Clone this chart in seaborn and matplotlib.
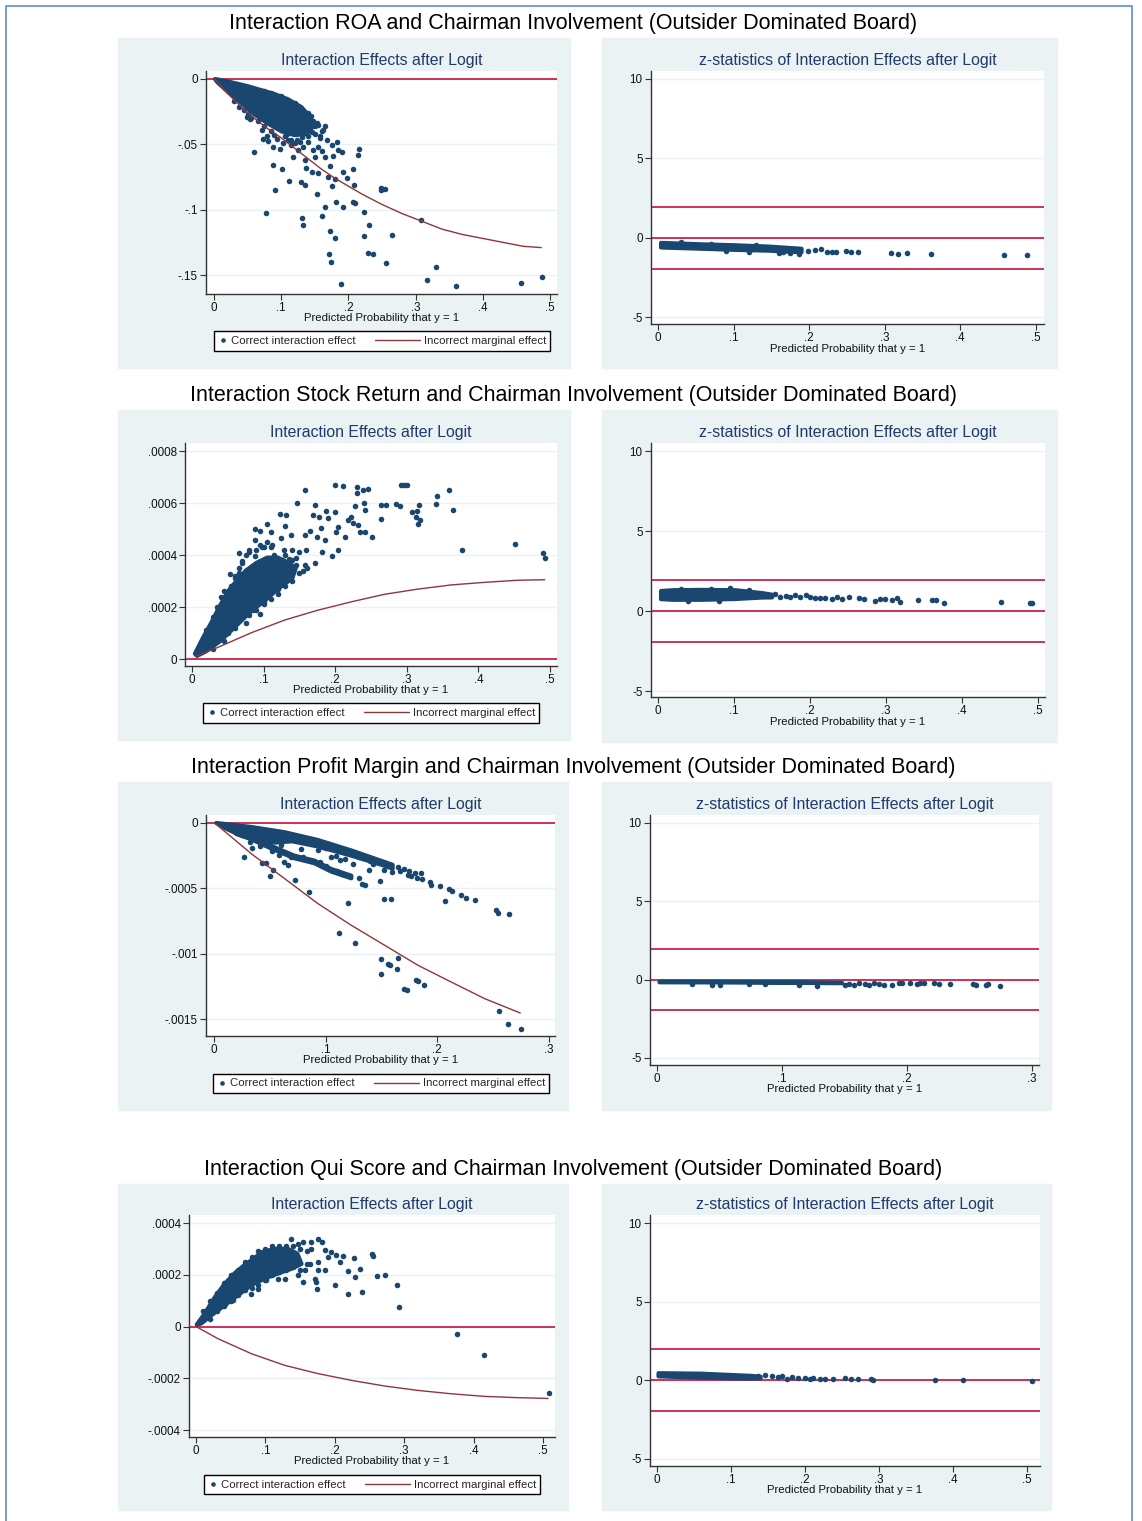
import seaborn as sns
import matplotlib.pyplot as plt
from matplotlib.lines import Line2D
from matplotlib.patches import Rectangle
from matplotlib.legend_handler import HandlerLine2D

W, H = 1142, 1521
NAVY = '#1A476F'
MAROON = '#90353B'
RED = '#C8103A'
PANEL = '#EAF2F3'
SUBTITLE = '#1F3B6B'

# ---------------- DATA ----------------
row_titles = [
    'Interaction ROA and Chairman Involvement (Outsider Dominated Board)',
    'Interaction Stock Return and Chairman Involvement (Outsider Dominated Board)',
    'Interaction Profit Margin and Chairman Involvement (Outsider Dominated Board)',
    'Interaction Qui Score and Chairman Involvement (Outsider Dominated Board)',
]
legend_labels = ['Correct interaction effect', 'Incorrect marginal effect']

x_ticks_5 = [0, .1, .2, .3, .4, .5]
x_labels_5 = ['0', '.1', '.2', '.3', '.4', '.5']
x_ticks_3 = [0, .1, .2, .3]
x_labels_3 = ['0', '.1', '.2', '.3']
z_ticks = [-5, 0, 5, 10]
z_labels = ['-5', '0', '5', '10']
z_bounds = [-1.96, 0, 1.96]

# ROA
roa_yticks = [0, -.05, -.1, -.15]
roa_ylabels = ['0', '-.05', '-.1', '-.15']
roa_line_x = [0.001, 0.02, 0.04, 0.06, 0.08, 0.10, 0.12, 0.14, 0.16, 0.18, 0.20, 0.22, 0.25,
              0.28, 0.31, 0.34, 0.37, 0.40, 0.43, 0.46, 0.487]
roa_line_y = [0, -0.011, -0.021, -0.030, -0.038, -0.045, -0.053, -0.061, -0.069, -0.076, -0.082,
              -0.088, -0.096, -0.103, -0.109, -0.115, -0.119, -0.122, -0.125, -0.128, -0.129]
roa_cloud = [(0.0015, 0.0), (0.02, -0.0018), (0.05, -0.0055), (0.07, -0.0085), (0.09, -0.0115),
             (0.11, -0.0155), (0.13, -0.0215), (0.143, -0.029), (0.148, -0.036), (0.138, -0.042),
             (0.12, -0.043), (0.10, -0.040), (0.08, -0.034), (0.06, -0.027), (0.04, -0.018),
             (0.02, -0.0095), (0.005, -0.0025)]
roa_points = [
    (0.0595, -0.0561), (0.0774, -0.1028), (0.0908, -0.0852), (0.0883, -0.0661), (0.1007, -0.0689),
    (0.1116, -0.0783), (0.129, -0.0788), (0.1354, -0.0811), (0.1305, -0.1061), (0.133, -0.112),
    (0.1463, -0.0712), (0.1543, -0.0722), (0.1528, -0.088), (0.1602, -0.1051), (0.1657, -0.0977),
    (0.1696, -0.0747), (0.1761, -0.0816), (0.1806, -0.0763), (0.181, -0.0944), (0.172, -0.1161),
    (0.1796, -0.1214), (0.1716, -0.1339), (0.1736, -0.140), (0.1895, -0.1569), (0.1915, -0.0714),
    (0.1974, -0.0759), (0.192, -0.0982), (0.2073, -0.0689), (0.2078, -0.0814), (0.2073, -0.0939),
    (0.2093, -0.0952), (0.2148, -0.0584), (0.2163, -0.0536), (0.2227, -0.102), (0.2232, -0.1204),
    (0.2307, -0.1117), (0.2292, -0.1334), (0.2361, -0.1336), (0.248, -0.0832), (0.249, -0.0847),
    (0.2545, -0.0842), (0.256, -0.141), (0.2649, -0.1191), (0.308, -0.1081), (0.317, -0.1541),
    (0.330, -0.1441), (0.3606, -0.1587), (0.4573, -0.1561), (0.488, -0.1515),
    (0.0377, -0.0214), (0.0486, -0.0288), (0.0536, -0.031), (0.071, -0.039), (0.0734, -0.0459),
    (0.0794, -0.0434), (0.0809, -0.0472), (0.0883, -0.0518), (0.0933, -0.0459), (0.0983, -0.0538),
    (0.1032, -0.0487), (0.1081, -0.0423), (0.1106, -0.0181), (0.1146, -0.0502), (0.1181, -0.0594),
    (0.123, -0.0467), (0.1255, -0.0546), (0.1205, -0.0237), (0.1305, -0.0268), (0.1305, -0.0441),
    (0.133, -0.0523), (0.1354, -0.062), (0.1369, -0.0684), (0.1403, -0.048), (0.1453, -0.0403),
    (0.1468, -0.0546), (0.1503, -0.0597), (0.1528, -0.0339), (0.1553, -0.0518), (0.1577, -0.0454),
    (0.1602, -0.0549), (0.1627, -0.0391), (0.1652, -0.06), (0.1676, -0.0467), (0.1726, -0.0666),
    (0.1751, -0.0505), (0.1776, -0.0589), (0.1825, -0.0485), (0.185, -0.0544), (0.19, -0.0556),
    (0.0983, -0.0385), (0.145, -0.028), (0.15, -0.036), (0.125, -0.036), (0.115, -0.047),
    (0.075, -0.009), (0.085, -0.011), (0.10, -0.013), (0.105, -0.016), (0.12, -0.018), (0.13, -0.022),
    (0.14, -0.026), (0.148, -0.032), (0.155, -0.035), (0.16, -0.040), (0.158, -0.044),
    (0.03, -0.017), (0.045, -0.024), (0.05, -0.027), (0.055, -0.030), (0.065, -0.032), (0.075, -0.036),
    (0.085, -0.040), (0.09, -0.043), (0.105, -0.044), (0.11, -0.047), (0.12, -0.049), (0.128, -0.048),
    (0.14, -0.044), (0.135, -0.038), (0.15, -0.042), (0.165, -0.036),
]
roa_z_band = [(0.004, -0.33), (0.058, -0.42), (0.102, -0.48), (0.146, -0.56), (0.19, -0.70),
              (0.19, -0.92), (0.146, -0.82), (0.102, -0.77), (0.058, -0.70), (0.004, -0.62)]
roa_z_points = [(0.198, -0.86), (0.208, -0.78), (0.216, -0.74), (0.224, -0.88), (0.230, -0.92),
                (0.236, -0.90), (0.249, -0.86), (0.256, -0.88), (0.265, -0.92), (0.309, -0.94),
                (0.318, -1.02), (0.330, -0.98), (0.361, -1.02), (0.458, -1.11), (0.488, -1.11),
                (0.186, -1.03), (0.175, -0.95), (0.165, -0.88), (0.182, -0.80), (0.16, -0.95),
                (0.12, -0.88), (0.09, -0.85), (0.03, -0.30), (0.07, -0.38), (0.13, -0.47)]

# Stock return
stock_yticks = [0, .0002, .0004, .0006, .0008]
stock_ylabels = ['0', '.0002', '.0004', '.0006', '.0008']
stock_line_x = [0.006, 0.0363, 0.0828, 0.1295, 0.176, 0.2225, 0.269, 0.3156, 0.362, 0.409, 0.455, 0.4926]
stock_line_y = [0.0000115, 0.000045, 0.000101, 0.00015, 0.000188, 0.00022, 0.000249, 0.000269,
                0.000285, 0.000295, 0.000303, 0.000305]
stock_cloud = [(0.004, 0.00002), (0.015, 0.00008), (0.027, 0.00014), (0.038, 0.0002), (0.05, 0.00026),
               (0.062, 0.0003), (0.075, 0.00034), (0.09, 0.00037), (0.105, 0.00039), (0.12, 0.00039),
               (0.135, 0.00037), (0.145, 0.00035), (0.14, 0.00031), (0.12, 0.00027), (0.10, 0.00022),
               (0.085, 0.00019), (0.07, 0.00015), (0.055, 0.00011), (0.04, 0.00007), (0.02, 0.00003),
               (0.007, 0.000012)]
stock_points = [
    (0.0526, 0.000326), (0.0656, 0.000409), (0.0698, 0.000378), (0.0791, 0.000418), (0.0875, 0.000397),
    (0.088, 0.000459), (0.088, 0.000499), (0.0945, 0.000494), (0.0982, 0.000432), (0.0945, 0.000172),
    (0.0857, 0.000188), (0.1047, 0.000518), (0.1108, 0.000488), (0.1117, 0.000437), (0.1234, 0.000559),
    (0.1308, 0.000555), (0.1294, 0.000512), (0.1246, 0.000464), (0.1387, 0.000478), (0.1285, 0.000419),
    (0.135, 0.000384), (0.1466, 0.0006), (0.1583, 0.000649), (0.1574, 0.000478), (0.1598, 0.000418),
    (0.1574, 0.000361), (0.1644, 0.000494), (0.169, 0.000555), (0.1714, 0.000593), (0.1723, 0.000371),
    (0.177, 0.000545), (0.1807, 0.000503), (0.1751, 0.000471), (0.1877, 0.000571), (0.19, 0.000544),
    (0.1854, 0.000458), (0.1817, 0.000413), (0.1961, 0.000397), (0.1993, 0.000565), (0.2002, 0.000669),
    (0.2039, 0.000509), (0.2039, 0.000419), (0.2016, 0.000488), (0.2114, 0.000666), (0.2132, 0.000471),
    (0.2179, 0.000535), (0.2225, 0.000548), (0.2249, 0.000522), (0.2281, 0.00059), (0.23, 0.000662),
    (0.23, 0.000639), (0.2318, 0.000516), (0.2346, 0.000488), (0.2393, 0.000649), (0.2402, 0.000599),
    (0.2421, 0.000573), (0.2458, 0.000654), (0.2411, 0.000487), (0.252, 0.000468), (0.2644, 0.000539),
    (0.2644, 0.000593), (0.2704, 0.000593), (0.2855, 0.000596), (0.2906, 0.000587), (0.2915, 0.000669),
    (0.2962, 0.000669), (0.3, 0.000669), (0.3077, 0.000565), (0.3124, 0.000545), (0.3147, 0.00057),
    (0.3156, 0.000518), (0.3184, 0.000535), (0.317, 0.000593), (0.3412, 0.000598), (0.3426, 0.000629),
    (0.3594, 0.000651), (0.365, 0.000575), (0.3765, 0.00042), (0.4515, 0.000443), (0.4902, 0.000407),
    (0.4926, 0.000389),
    (0.08, 0.00032), (0.09, 0.00035), (0.1, 0.00036), (0.11, 0.00034), (0.12, 0.00037), (0.13, 0.0004),
    (0.14, 0.00042), (0.145, 0.00039), (0.15, 0.00041), (0.115, 0.00029), (0.105, 0.00026),
    (0.095, 0.00028), (0.125, 0.00031), (0.135, 0.00036), (0.14, 0.00035), (0.1, 0.00022),
    (0.12, 0.00027), (0.07, 0.00028), (0.065, 0.00033), (0.06, 0.00031),
    (0.02, 0.00011), (0.03, 0.00016), (0.035, 0.0002), (0.04, 0.00024), (0.045, 0.00026),
    (0.055, 0.00028), (0.06, 0.00032), (0.065, 0.00035), (0.07, 0.00037), (0.075, 0.0004),
    (0.08, 0.00041), (0.09, 0.00042), (0.095, 0.00044), (0.1, 0.00043), (0.105, 0.00045),
    (0.11, 0.00043), (0.115, 0.0004), (0.125, 0.00038), (0.13, 0.00037), (0.14, 0.00038),
    (0.145, 0.00036), (0.03, 0.00004), (0.045, 0.00007), (0.05, 0.0001), (0.06, 0.00012),
    (0.075, 0.00014), (0.08, 0.00017), (0.09, 0.00019), (0.1, 0.00021), (0.11, 0.00023),
    (0.12, 0.00025), (0.13, 0.00028), (0.14, 0.0003), (0.15, 0.00033), (0.155, 0.00034),
    (0.16, 0.00035),
]
stock_z_band = [(0.004, 1.25), (0.02, 1.30), (0.058, 1.32), (0.102, 1.30), (0.137, 1.12), (0.15, 1.02),
                (0.15, 0.85), (0.137, 0.84), (0.102, 0.75), (0.058, 0.70), (0.02, 0.70), (0.004, 0.74)]
stock_z_points = [(0.1544, 1.06), (0.161, 0.90), (0.168, 0.94), (0.174, 0.85), (0.1807, 1.0),
                  (0.1873, 0.85), (0.1947, 1.0), (0.2004, 0.90), (0.207, 0.79), (0.2136, 0.79),
                  (0.2202, 0.79), (0.229, 0.73), (0.2355, 0.85), (0.2421, 0.73), (0.2509, 0.85),
                  (0.264, 0.79), (0.2706, 0.75), (0.2851, 0.63), (0.2917, 0.73), (0.2982, 0.73),
                  (0.3079, 0.69), (0.3145, 0.79), (0.3189, 0.58), (0.3421, 0.69), (0.3605, 0.67),
                  (0.365, 0.69), (0.3763, 0.52), (0.4513, 0.58), (0.4899, 0.52), (0.4921, 0.52),
                  (0.03, 1.40), (0.07, 1.38), (0.095, 1.42), (0.12, 1.30), (0.04, 0.62), (0.08, 0.64)]

# Profit margin
profit_yticks = [0, -.0005, -.001, -.0015]
profit_ylabels = ['0', '-.0005', '-.001', '-.0015']
profit_line_x = [0.0006, 0.0334, 0.0633, 0.0931, 0.123, 0.1529, 0.1827, 0.2125, 0.2424, 0.2743]
profit_line_y = [0, -0.000235, -0.000426, -0.000617, -0.000783, -0.000936, -0.001089, -0.001217,
                 -0.001344, -0.001454]
profit_cloud = [(0.002, 0.0), (0.033, -0.00003), (0.063, -0.00007), (0.093, -0.00013), (0.123, -0.00021),
                (0.15, -0.00029), (0.16, -0.00032), (0.16, -0.00035), (0.15, -0.00032), (0.123, -0.00025),
                (0.093, -0.00018), (0.07, -0.00014), (0.055, -0.00015), (0.04, -0.00014), (0.025, -0.0001),
                (0.01, -0.00004)]
profit_branch = [(0.02, -0.000065), (0.028, -0.000084), (0.051, -0.000174), (0.072, -0.00025),
                 (0.09, -0.000288), (0.105, -0.000352), (0.123, -0.000403), (0.123, -0.000423),
                 (0.105, -0.000372), (0.09, -0.000308), (0.072, -0.00027), (0.051, -0.000194),
                 (0.028, -0.000104), (0.02, -0.000085)]
profit_points = [
    (0.0269, -0.00026), (0.032, -0.000145), (0.034, -0.000189), (0.0409, -0.000179), (0.043, -0.000306),
    (0.0469, -0.000306), (0.0505, -0.000403), (0.0519, -0.000214), (0.0531, -0.00036), (0.0579, -0.000242),
    (0.0624, -0.000301), (0.0663, -0.000319), (0.0722, -0.000439), (0.0851, -0.000528), (0.0693, -0.00026),
    (0.0782, -0.000196), (0.0931, -0.000209), (0.0976, -0.000184), (0.1051, -0.00026), (0.1096, -0.000253),
    (0.1125, -0.000286), (0.117, -0.000273), (0.12, -0.00061), (0.1116, -0.00084), (0.1248, -0.000314),
    (0.1266, -0.000916), (0.1295, -0.000418), (0.1325, -0.000464), (0.1349, -0.000472), (0.1385, -0.000362),
    (0.1424, -0.000311), (0.1487, -0.000444), (0.1498, -0.001043), (0.1498, -0.001153), (0.152, -0.000584),
    (0.1522, -0.000362), (0.1558, -0.001077), (0.1573, -0.001084), (0.1582, -0.000584), (0.1594, -0.000375),
    (0.1636, -0.001117), (0.1648, -0.001031), (0.1663, -0.00037), (0.1699, -0.001268), (0.1726, -0.001276),
    (0.1737, -0.0004), (0.1767, -0.000406), (0.1812, -0.001199), (0.1827, -0.001207), (0.1821, -0.000418),
    (0.1863, -0.000431), (0.1881, -0.00124), (0.1931, -0.000452), (0.194, -0.000472), (0.2021, -0.000485),
    (0.2072, -0.000595), (0.2104, -0.000508), (0.2134, -0.00052), (0.2215, -0.000548), (0.226, -0.000571),
    (0.234, -0.000592), (0.2522, -0.000668), (0.2543, -0.000686), (0.2639, -0.000694), (0.2552, -0.001441),
    (0.2633, -0.001541), (0.2746, -0.001577),
    (0.165, -0.00034), (0.17, -0.000355), (0.175, -0.00037), (0.18, -0.00038), (0.185, -0.000385),
    (0.08, -0.00026), (0.085, -0.00028), (0.095, -0.0003), (0.1, -0.00033), (0.11, -0.00037),
    (0.115, -0.00039), (0.06, -0.00017), (0.045, -0.00016), (0.1, -0.00019), (0.13, -0.00026),
    (0.14, -0.00029),
]
profit_z_band = [(0.002, -0.13), (0.05, -0.14), (0.10, -0.16), (0.148, -0.20),
                 (0.148, -0.23), (0.10, -0.20), (0.05, -0.18), (0.002, -0.17)]
profit_z_points = [(0.1501, -0.32), (0.1533, -0.26), (0.1573, -0.32), (0.1613, -0.21), (0.1667, -0.26),
                   (0.1693, -0.32), (0.1733, -0.21), (0.1773, -0.26), (0.1813, -0.32), (0.188, -0.32),
                   (0.1933, -0.21), (0.196, -0.21), (0.2027, -0.23), (0.208, -0.26), (0.2107, -0.23),
                   (0.2133, -0.23), (0.2213, -0.23), (0.2259, -0.26), (0.2347, -0.26), (0.2525, -0.26),
                   (0.2552, -0.36), (0.2632, -0.36), (0.2648, -0.28), (0.2747, -0.40),
                   (0.028, -0.30), (0.044, -0.32), (0.0507, -0.32), (0.0733, -0.30), (0.0867, -0.30),
                   (0.1133, -0.32), (0.128, -0.40)]

# Qui score
qui_yticks = [-.0004, -.0002, 0, .0002, .0004]
qui_ylabels = ['-.0004', '-.0002', '0', '.0002', '.0004']
qui_line_x = [0.0, 0.0317, 0.0797, 0.1278, 0.1758, 0.2238, 0.2719, 0.3199, 0.3679, 0.416, 0.464, 0.5072]
qui_line_y = [0, -0.000047, -0.000105, -0.00015, -0.000182, -0.000208, -0.00023, -0.000247, -0.00026,
              -0.00027, -0.000275, -0.000278]
qui_cloud = [(0.001, 0.000007), (0.0125, 0.00005), (0.027, 0.000113), (0.0413, 0.000165),
             (0.0557, 0.000206), (0.0701, 0.000238), (0.0845, 0.000265), (0.0941, 0.000287),
             (0.1134, 0.0003), (0.1326, 0.0003), (0.146, 0.000282), (0.152, 0.000242),
             (0.1374, 0.000223), (0.1182, 0.000205), (0.099, 0.000185), (0.0797, 0.00016),
             (0.0605, 0.000121), (0.0413, 0.000082), (0.0221, 0.000043), (0.0077, 0.000012)]
qui_points = [
    (0.1374, 0.000337), (0.147, 0.00032), (0.1542, 0.000327), (0.1662, 0.000327), (0.1758, 0.000337),
    (0.1816, 0.000327), (0.1854, 0.000294), (0.1902, 0.000269), (0.195, 0.000288), (0.2022, 0.000275),
    (0.207, 0.000249), (0.2118, 0.000272), (0.219, 0.000213), (0.2286, 0.000191), (0.2272, 0.000266),
    (0.2358, 0.000221), (0.2392, 0.000133), (0.2536, 0.000281), (0.2546, 0.000274), (0.2613, 0.000196),
    (0.2719, 0.0002), (0.2892, 0.000159), (0.2925, 0.000074), (0.3761, -0.00003), (0.415, -0.00011),
    (0.5082, -0.000257), (0.219, 0.000127), (0.2008, 0.000159), (0.1734, 0.000172), (0.171, 0.000185),
    (0.1739, 0.000146), (0.1542, 0.000172), (0.147, 0.000198), (0.1278, 0.000185), (0.1182, 0.000182),
    (0.1013, 0.000178), (0.0893, 0.000146), (0.0797, 0.000127), (0.0701, 0.000153), (0.0423, 0.000088),
    (0.0533, 0.000101), (0.1566, 0.000217), (0.1638, 0.000243), (0.1758, 0.000217), (0.1854, 0.00022),
    (0.1758, 0.000249), (0.1662, 0.0003), (0.1278, 0.000292),
    (0.01, 0.00006), (0.02, 0.0001), (0.03, 0.00013), (0.04, 0.00017), (0.05, 0.0002), (0.06, 0.00022),
    (0.07, 0.00025), (0.08, 0.00027), (0.09, 0.00029), (0.1, 0.0003), (0.11, 0.00031), (0.12, 0.00031),
    (0.13, 0.00031), (0.14, 0.00031), (0.15, 0.0003), (0.16, 0.00029), (0.02, 0.00003), (0.03, 0.00006),
    (0.04, 0.00008), (0.05, 0.0001), (0.06, 0.00012), (0.07, 0.00014), (0.08, 0.00015), (0.09, 0.00016),
    (0.1, 0.00018), (0.11, 0.0002), (0.12, 0.00021), (0.13, 0.00022), (0.14, 0.00023), (0.15, 0.00022),
    (0.16, 0.00024),
]
qui_z_band = [(0.002, 0.45), (0.06, 0.42), (0.128, 0.28), (0.14, 0.22),
              (0.14, 0.12), (0.128, 0.10), (0.06, 0.16), (0.002, 0.25)]
qui_z_points = [(0.137, 0.27), (0.146, 0.32), (0.155, 0.27), (0.164, 0.21), (0.1685, 0.27),
                (0.1752, 0.11), (0.1819, 0.21), (0.1909, 0.15), (0.1999, 0.15), (0.2066, 0.11),
                (0.2111, 0.15), (0.2201, 0.06), (0.2268, 0.11), (0.238, 0.06), (0.2538, 0.15),
                (0.2619, 0.11), (0.2718, 0.11), (0.2889, 0.06), (0.292, 0.02), (0.3751, 0.02),
                (0.4142, 0.0), (0.5067, -0.06)]

# ---------------- STYLE ----------------
sns.set_theme(style='white')
plt.rcParams['font.family'] = ['Liberation Sans', 'DejaVu Sans']

fig = plt.figure(figsize=(W / 100, H / 100), dpi=100)


def fbox(x0, y0, x1, y1):
    return [x0 / W, 1 - y1 / H, (x1 - x0) / W, (y1 - y0) / H]


def unzip(pairs):
    return [p[0] for p in pairs], [p[1] for p in pairs]


def panel(bg, rect, xlim, ylim, xt, xtl, yt, ytl, title, title_y, xlab_y):
    fig.patches.append(Rectangle((bg[0] / W, 1 - bg[3] / H), (bg[2] - bg[0]) / W,
                                 (bg[3] - bg[1]) / H, transform=fig.transFigure,
                                 color=PANEL, zorder=-1))
    ax = fig.add_axes(fbox(*rect))
    ax.set_facecolor('white')
    for s in ['top', 'right']:
        ax.spines[s].set_visible(False)
    for s in ['left', 'bottom']:
        ax.spines[s].set_color('#333333')
        ax.spines[s].set_linewidth(1.0)
    ax.set_xlim(*xlim)
    ax.set_ylim(*ylim)
    ax.set_xticks(xt)
    ax.set_xticklabels(xtl)
    ax.set_yticks(yt)
    ax.set_yticklabels(ytl)
    ax.tick_params(axis='both', bottom=True, left=True, direction='out', length=4, width=0.8,
                   color='#333333', labelsize=8.4, pad=2, labelcolor='#111111')
    ax.grid(axis='y', color=PANEL, lw=1.0)
    ax.set_axisbelow(True)
    cx = (rect[0] + rect[2]) / 2
    fig.text(cx / W, 1 - title_y / H, title, ha='center', va='center', fontsize=11.4, color=SUBTITLE)
    fig.text(cx / W, 1 - xlab_y / H, 'Predicted Probability that y = 1', ha='center', va='center',
             fontsize=8.2, color='#111111')
    return ax


def draw_points(ax, clouds, pts):
    for c in clouds:
        cx, cy = unzip(c)
        ax.fill(cx, cy, color=NAVY, lw=3, joinstyle='round', zorder=3)
    px, py = unzip(pts)
    sns.scatterplot(x=px, y=py, color=NAVY, s=16, linewidth=0, ax=ax, zorder=3, legend=False)


def add_legend(ax, lb):
    h1 = Line2D([], [], ls='', marker='o', ms=3.3, mew=0, color=NAVY)
    h2 = Line2D([], [], color=MAROON, lw=1)
    cx = (lb[0] + lb[2]) / 2 / W
    cy = 1 - (lb[1] + lb[3]) / 2 / H
    leg = ax.legend([h1, h2], legend_labels, loc='center', bbox_to_anchor=(cx, cy),
                    bbox_transform=fig.transFigure, ncol=2, fontsize=8.2, frameon=True,
                    fancybox=False, edgecolor='black', framealpha=1, borderpad=0.4,
                    handlelength=0.8, handletextpad=0.3, columnspacing=4.9,
                    handler_map={h2: HandlerLine2D(xpad=-3.2)})
    leg.get_frame().set_linewidth(1.0)


left_specs = [
    dict(bg=(118, 38, 570, 368), rect=(206, 71, 557, 294), xlim=(-0.0119, 0.5104), ylim=(-0.1645, 0.0061),
         xt=x_ticks_5, xtl=x_labels_5, yt=roa_yticks, ytl=roa_ylabels, title_y=61, xlab_y=318,
         leg=(211, 330, 553, 352), cloud=[roa_cloud], pts=roa_points, lx=roa_line_x, ly=roa_line_y),
    dict(bg=(118, 410, 570, 740), rect=(185, 443, 557, 666), xlim=(-0.0098, 0.5098), ylim=(-0.0000269, 0.000831),
         xt=x_ticks_5, xtl=x_labels_5, yt=stock_yticks, ytl=stock_ylabels, title_y=433, xlab_y=690,
         leg=(200, 702, 542, 724), cloud=[stock_cloud], pts=stock_points, lx=stock_line_x, ly=stock_line_y),
    dict(bg=(118, 782, 568, 1110), rect=(206, 815, 555, 1036), xlim=(-0.00716, 0.3054), ylim=(-0.00163, 0.0000612),
         xt=x_ticks_3, xtl=x_labels_3, yt=profit_yticks, ytl=profit_ylabels, title_y=805, xlab_y=1060,
         leg=(211, 1073, 551, 1094), cloud=[profit_cloud, profit_branch], pts=profit_points,
         lx=profit_line_x, ly=profit_line_y),
    dict(bg=(118, 1184, 568, 1510), rect=(189, 1215, 555, 1437), xlim=(-0.0101, 0.5173), ylim=(-0.000427, 0.000431),
         xt=x_ticks_5, xtl=x_labels_5, yt=qui_yticks, ytl=qui_ylabels, title_y=1205, xlab_y=1461,
         leg=(202, 1474, 542, 1495), cloud=[qui_cloud], pts=qui_points, lx=qui_line_x, ly=qui_line_y),
]
right_specs = [
    dict(bg=(602, 38, 1057, 368), rect=(651, 71, 1044, 324), xlim=(-0.0093, 0.511), ylim=(-5.44, 10.5),
         xt=x_ticks_5, xtl=x_labels_5, title_y=61, xlab_y=349, band=roa_z_band, pts=roa_z_points),
    dict(bg=(602, 410, 1057, 742), rect=(651, 443, 1045, 697), xlim=(-0.0092, 0.509), ylim=(-5.375, 10.5),
         xt=x_ticks_5, xtl=x_labels_5, title_y=433, xlab_y=722, band=stock_z_band, pts=stock_z_points),
    dict(bg=(602, 782, 1051, 1110), rect=(650, 815, 1039, 1065), xlim=(-0.0056, 0.3056), ylim=(-5.45, 10.51),
         xt=x_ticks_3, xtl=x_labels_3, title_y=805, xlab_y=1089, band=profit_z_band, pts=profit_z_points),
    dict(bg=(602, 1184, 1051, 1510), rect=(650, 1215, 1040, 1466), xlim=(-0.0095, 0.5176), ylim=(-5.45, 10.51),
         xt=x_ticks_5, xtl=x_labels_5, title_y=1205, xlab_y=1490, band=qui_z_band, pts=qui_z_points),
]
row_title_y = [24, 396, 768, 1170]

for i in range(4):
    L = left_specs[i]
    ax = panel(L['bg'], L['rect'], L['xlim'], L['ylim'], L['xt'], L['xtl'], L['yt'], L['ytl'],
               'Interaction Effects after Logit', L['title_y'], L['xlab_y'])
    ax.axhline(0, color=RED, lw=1.2, zorder=2)
    draw_points(ax, L['cloud'], L['pts'])
    sns.lineplot(x=L['lx'], y=L['ly'], color=MAROON, lw=1, sort=False, estimator=None, ax=ax, zorder=4)
    add_legend(ax, L['leg'])

    R = right_specs[i]
    ax = panel(R['bg'], R['rect'], R['xlim'], R['ylim'], R['xt'], R['xtl'], z_ticks, z_labels,
               'z-statistics of Interaction Effects after Logit', R['title_y'], R['xlab_y'])
    for b in z_bounds:
        ax.axhline(b, color=RED, lw=1.2, zorder=2)
    draw_points(ax, [R['band']], R['pts'])

    fig.text(573 / W, 1 - row_title_y[i] / H, row_titles[i], ha='center', va='center',
             fontsize=15.5, color='black')

# outer blue frame
fig.patches.append(Rectangle((6 / W, -0.01), (1132 - 6) / W, 1.01 - 6 / H, transform=fig.transFigure,
                             fill=False, edgecolor='#6A96D0', lw=1.3, zorder=-1))

fig.savefig('out.png', dpi=100)
